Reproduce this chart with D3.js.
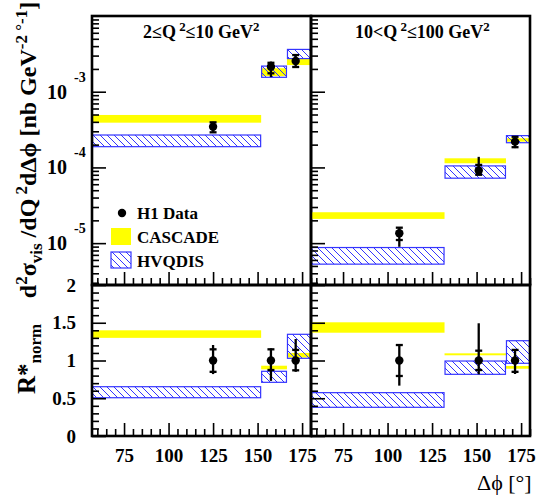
<!DOCTYPE html>
<html><head><meta charset="utf-8">
<script src="https://cdn.jsdelivr.net/npm/d3@7"></script>
<style>
html,body{margin:0;padding:0;background:#fff;}
svg{display:block;}
text{font-family:"Liberation Serif","Times New Roman",serif;}
</style></head>
<body><svg id="c" width="539" height="497"></svg>
<script>
// ---- data ----
const dphiMajor = [75,100,125,150,175];
const binEdgesLow = [57,152,166.5,180];
const binEdgesHigh = [57,132,166.5,180];
const dataXLow = [125,157.5,171.4];
const dataXHigh = [106.6,151.2,171.6];

const xsLowData = [3.45e-4, 2.14e-3, 2.55e-3];
const xsLowStat = [[2.91e-4,3.94e-4],[1.75e-3,2.41e-3],[2.12e-3,3.05e-3]];
const xsLowTot = [[2.85e-4,4.0e-4],[1.56e-3,2.5e-3],[2.12e-3,3.05e-3]];
const xsLowCascade = [[3.9e-4,4.93e-4],[1.61e-3,2.04e-3],[2.25e-3,2.74e-3]];
const xsLowHvqdis = [[1.88e-4,2.68e-4],[1.55e-3,2.18e-3],[2.74e-3,3.62e-3]];

const xsHighData = [1.35e-5, 9.1e-5, 2.19e-4];
const xsHighStat = [[1.1e-5,1.6e-5],[8.0e-5,1.08e-4],[1.85e-4,2.54e-4]];
const xsHighTot = [[8.95e-6,1.6e-5],[7.9e-5,1.38e-4],[1.8e-4,2.56e-4]];
const xsHighCascade = [[2.09e-5,2.56e-5],[1.135e-4,1.32e-4],[2.19e-4,2.43e-4]];
const xsHighHvqdis = [[5.28e-6,8.75e-6],[7.21e-5,1.047e-4],[2.12e-4,2.63e-4]];

const rLowData = [1,1,1];
const rLowStat = [[0.85,1.148],[0.874,1.148],[0.87,1.14]];
const rLowTot = [[0.82,1.205],[0.73,1.16],[0.85,1.285]];
const rLowCascade = [[1.30,1.40],[0.883,0.931],[1.04,1.10]];
const rLowHvqdis = [[0.507,0.653],[0.711,0.857],[1.029,1.347]];

const rHighData = [1,1,1];
const rHighStat = [[0.795,1.205],[0.874,1.13],[0.85,1.14]];
const rHighTot = [[0.667,1.205],[0.817,1.493],[0.821,1.152]];
const rHighCascade = [[1.368,1.506],[1.069,1.095],[0.891,0.927]];
const rHighHvqdis = [[0.38,0.574],[0.817,0.993],[0.963,1.262]];

const logMajor = [1e-5,1e-4,1e-3];
const ratioMajor = [0,0.5,1,1.5,2];

// ---- layout ----
const svg = d3.select("#c");
const FONT = '"Liberation Serif","Times New Roman",serif';
const BLUE = "#3434ff";
const xLeft = d3.scaleLinear().domain([57,180]).range([92,311]);
const xRight = d3.scaleLinear().domain([57,180]).range([311,530]);
const yTop = d3.scaleLog().domain([2.8e-6,1e-2]).range([285,16]);
const yBot = d3.scaleLinear().domain([0,2]).range([436,285]);

const defs = svg.append("defs");
defs.append("pattern").attr("id","hatch").attr("patternUnits","userSpaceOnUse")
  .attr("width",7).attr("height",7)
  .append("path").attr("d","M-1,-1 L8,8 M-1,6 L1,8 M6,-1 L8,1")
  .attr("stroke",BLUE).attr("stroke-width",1);

const minorX = d3.range(60,181,5).filter(v=>v%25!==0);
const minorLog = [];
[-6,-5,-4,-3].forEach(e=>{for(let m=2;m<=9;m++){const v=m*Math.pow(10,e); if(v>=2.8e-6&&v<1e-2) minorLog.push(v);}});
const minorR = d3.range(0,2.001,0.1).map(v=>+v.toFixed(1)).filter(v=>Math.round(v*10)%5!==0);

function styleAxis(g){ g.select(".domain").remove(); g.selectAll("line").attr("stroke","#000").attr("stroke-width",1.6); }

function panel(x, y, edges, dataX, val, stat, tot, casc, hvq, isTop, isLeft, showXLabels){
  const [x0,x1] = x.range(); const [yB,yT] = y.range();
  const g = svg.append("g");
  const bins = d3.range(edges.length-1);
  // CASCADE
  g.selectAll(".casc").data(bins).join("rect")
    .attr("x",i=>x(edges[i])).attr("width",i=>x(edges[i+1])-x(edges[i]))
    .attr("y",i=>y(casc[i][1])).attr("height",i=>y(casc[i][0])-y(casc[i][1]))
    .attr("fill","#ffff00");
  // HVQDIS
  g.selectAll(".hvq").data(bins).join("rect")
    .attr("x",i=>x(edges[i])+0.5).attr("width",i=>x(edges[i+1])-x(edges[i])-1)
    .attr("y",i=>y(hvq[i][1])).attr("height",i=>y(hvq[i][0])-y(hvq[i][1]))
    .attr("fill","url(#hatch)").attr("stroke",BLUE).attr("stroke-width",1.2);
  // data
  g.selectAll(".err").data(bins).join("line")
    .attr("x1",i=>x(dataX[i])).attr("x2",i=>x(dataX[i]))
    .attr("y1",i=>y(tot[i][0])).attr("y2",i=>y(tot[i][1]))
    .attr("stroke","#000").attr("stroke-width",2.3);
  bins.forEach(i=>{
    stat[i].forEach(v=>{
      g.append("line").attr("x1",x(dataX[i])-3.5).attr("x2",x(dataX[i])+3.5)
        .attr("y1",y(v)).attr("y2",y(v)).attr("stroke","#000").attr("stroke-width",2.3);
    });
  });
  g.selectAll(".dot").data(bins).join("circle")
    .attr("cx",i=>x(dataX[i])).attr("cy",i=>y(val[i])).attr("r",4.2).attr("fill","#000");

  // x axis ticks at bottom, inward
  const ax = svg.append("g").attr("transform",`translate(0,${yB})`)
    .call(d3.axisBottom(x).tickValues(dphiMajor).tickSize(-13).tickPadding(13)
      .tickFormat(showXLabels? d3.format("d") : ()=>""));
  styleAxis(ax);
  ax.selectAll("text").attr("font-family",FONT).attr("font-weight","bold").attr("font-size",19).attr("fill","#000");
  const axm = svg.append("g").attr("transform",`translate(0,${yB})`)
    .call(d3.axisBottom(x).tickValues(minorX).tickSize(-7).tickFormat(()=>""));
  styleAxis(axm);

  // y axis ticks at left, inward
  const major = isTop ? logMajor : ratioMajor;
  const minor = isTop ? minorLog : minorR;
  const ay = svg.append("g").attr("transform",`translate(${x0},0)`)
    .call(d3.axisLeft(y).tickValues(major).tickSize(-14).tickPadding(16)
      .tickFormat((!isTop && isLeft) ? (d=>String(d)) : ()=>""));
  styleAxis(ay);
  ay.selectAll("text").attr("font-family",FONT).attr("font-weight","bold").attr("font-size",19).attr("fill","#000");
  const aym = svg.append("g").attr("transform",`translate(${x0},0)`)
    .call(d3.axisLeft(y).tickValues(minor).tickSize(-7).tickFormat(()=>""));
  styleAxis(aym);

  if(isTop && isLeft){
    logMajor.forEach(v=>{
      const ty = y(v);
      svg.append("text").attr("x",67).attr("y",ty+7).attr("text-anchor","end")
        .attr("font-family",FONT).attr("font-weight","bold").attr("font-size",20).text("10");
      svg.append("text").attr("x",74).attr("y",ty-10)
        .attr("font-family",FONT).attr("font-weight","bold").attr("font-size",14)
        .text(String(Math.round(Math.log10(v))));
    });
  }
  // frame
  svg.append("rect").attr("x",x0).attr("y",yT).attr("width",x1-x0)
    .attr("height",yB-yT).attr("fill","none").attr("stroke","#000").attr("stroke-width",2.6);
}

panel(xLeft, yTop, binEdgesLow, dataXLow, xsLowData, xsLowStat, xsLowTot, xsLowCascade, xsLowHvqdis, true, true, false);
panel(xRight, yTop, binEdgesHigh, dataXHigh, xsHighData, xsHighStat, xsHighTot, xsHighCascade, xsHighHvqdis, true, false, false);
panel(xLeft, yBot, binEdgesLow, dataXLow, rLowData, rLowStat, rLowTot, rLowCascade, rLowHvqdis, false, true, true);
panel(xRight, yBot, binEdgesHigh, dataXHigh, rHighData, rHighStat, rHighTot, rHighCascade, rHighHvqdis, false, false, true);

// panel titles
function supText(x, y, parts, size){
  const t = svg.append("text").attr("x",x).attr("y",y).attr("font-family",FONT)
    .attr("font-weight","bold").attr("font-size",size);
  parts.forEach(p=>{
    const s = t.append("tspan").text(p.t);
    if(p.sup){ s.attr("dy",-size*0.38).attr("font-size",size*0.72); }
    if(p.back){ s.attr("dy",size*0.38); }
  });
  return t;
}
supText(143,38,[{t:"2≤Q"},{t:" 2",sup:true},{t:"≤10 GeV",back:true},{t:"2",sup:true}],18);
supText(355,38,[{t:"10<Q"},{t:" 2",sup:true},{t:"≤100 GeV",back:true},{t:"2",sup:true}],18);

// legend
svg.append("circle").attr("cx",122).attr("cy",213).attr("r",4.2).attr("fill","#000");
svg.append("rect").attr("x",111).attr("y",228).attr("width",20).attr("height",17).attr("fill","#ffff00");
svg.append("rect").attr("x",111).attr("y",252).attr("width",20).attr("height",16)
  .attr("fill","url(#hatch)").attr("stroke",BLUE).attr("stroke-width",1.2);
[["H1 Data",219],["CASCADE",243],["HVQDIS",267]].forEach(([s,yy])=>{
  svg.append("text").attr("x",137).attr("y",yy).attr("font-family",FONT)
    .attr("font-weight","bold").attr("font-size",17).text(s);
});

// y axis titles
const yt = svg.append("text").attr("transform","translate(36,150) rotate(-90)")
  .attr("text-anchor","middle").attr("font-family",FONT).attr("font-weight","bold").attr("font-size",24);
yt.append("tspan").text("d");
yt.append("tspan").attr("dy",-9).attr("font-size",17).text("2");
yt.append("tspan").attr("dy",9).text("σ");
yt.append("tspan").attr("dy",6).attr("font-size",17).text("vis");
yt.append("tspan").attr("dy",-6).text(" /dQ");
yt.append("tspan").attr("dy",-9).attr("font-size",17).text(" 2");
yt.append("tspan").attr("dy",9).text("dΔϕ [nb GeV");
yt.append("tspan").attr("dy",-9).attr("font-size",17).text("-2 °-1");
yt.append("tspan").attr("dy",9).text("]");

const rt = svg.append("text").attr("transform","translate(35,359) rotate(-90)")
  .attr("text-anchor","middle").attr("font-family",FONT).attr("font-weight","bold").attr("font-size",25);
rt.append("tspan").text("R*");
rt.append("tspan").attr("dy",6).attr("font-size",17).text("norm");

// x title
svg.append("text").attr("x",477).attr("y",490).attr("font-family",FONT).attr("font-size",22).text("Δϕ [°]");
</script></body></html>
